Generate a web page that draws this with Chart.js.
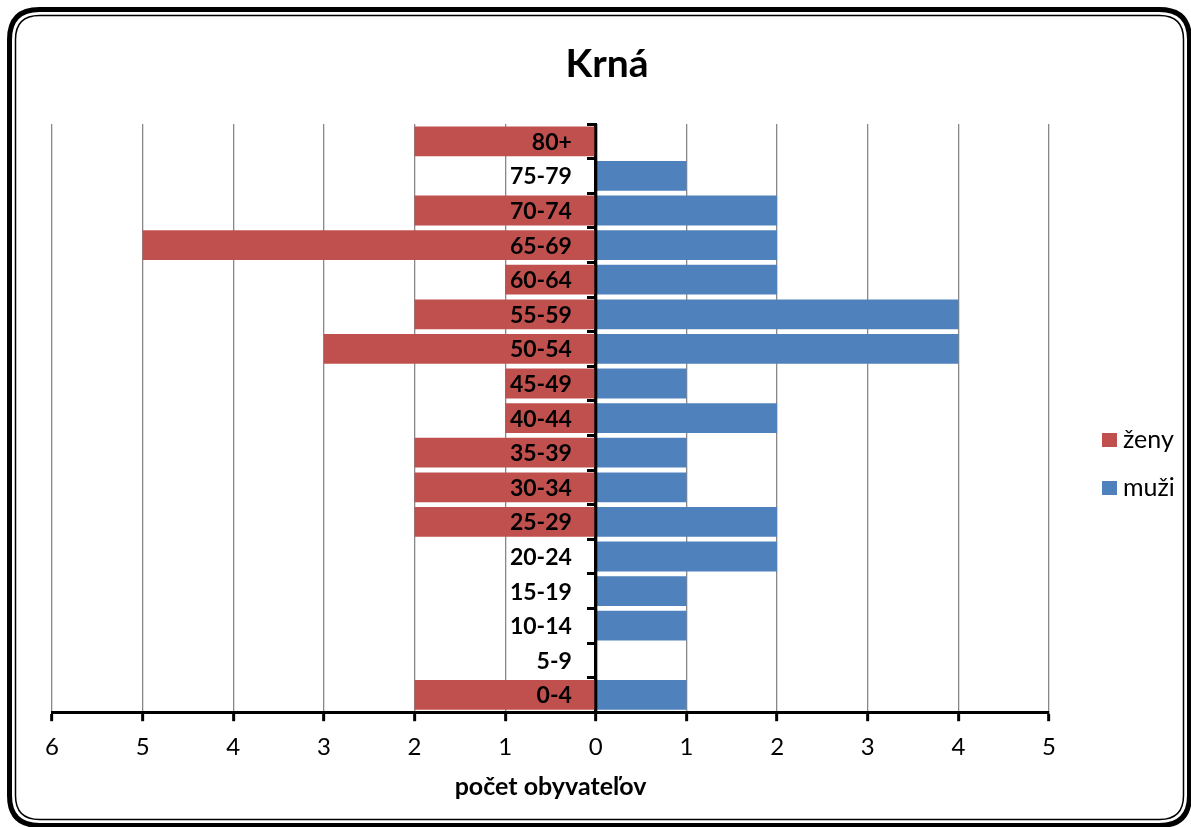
<!DOCTYPE html>
<html>
<head>
<meta charset="utf-8">
<script src="https://cdn.jsdelivr.net/npm/chart.js@4.4.1/dist/chart.umd.min.js"></script>
<style>
  html, body { margin: 0; padding: 0; background: #ffffff; }
  #wrap { width: 1191px; height: 827px; position: relative; }
</style>
</head>
<body>
<div id="wrap"><canvas id="c" width="1191" height="827"></canvas></div>
<script>
const chartTitle = 'Krná';
const axisTitle = 'počet obyvateľov';
const ageGroups = ['80+','75-79','70-74','65-69','60-64','55-59','50-54','45-49','40-44','35-39','30-34','25-29','20-24','15-19','10-14','5-9','0-4'];
const women = [2,0,2,5,1,2,3,1,1,2,2,2,0,0,0,0,2];
const men   = [0,1,2,2,2,4,4,1,2,1,1,2,2,1,1,0,1];
const womenLabel = 'ženy';
const menLabel = 'muži';
const womenColor = '#C0504D';
const menColor = '#4F81BD';
const xMin = -6, xMax = 5;

const FONT = 'Lato, "Open Sans", sans-serif';

const framePlugin = {
  id: 'frame',
  beforeDraw(chart) {
    const ctx = chart.ctx;
    ctx.save();
    ctx.fillStyle = '#ffffff';
    ctx.fillRect(0, 0, chart.width, chart.height);
    function rr(x, y, w, h, r) {
      ctx.beginPath();
      ctx.moveTo(x + r, y);
      ctx.lineTo(x + w - r, y);
      ctx.quadraticCurveTo(x + w, y, x + w, y + r);
      ctx.lineTo(x + w, y + h - r);
      ctx.quadraticCurveTo(x + w, y + h, x + w - r, y + h);
      ctx.lineTo(x + r, y + h);
      ctx.quadraticCurveTo(x, y + h, x, y + h - r);
      ctx.lineTo(x, y + r);
      ctx.quadraticCurveTo(x, y, x + r, y);
      ctx.closePath();
      ctx.stroke();
    }
    ctx.strokeStyle = '#000';
    ctx.lineWidth = 5;
    rr(9.5, 9.5, 1180, 816, 30);
    ctx.lineWidth = 1.5;
    rr(15.5, 15.5, 1168, 804, 24);
    // chart title
    ctx.fillStyle = '#000';
    ctx.font = 'bold 39px ' + FONT;
    ctx.textAlign = 'center';
    ctx.textBaseline = 'middle';
    ctx.fillText(chartTitle, 607, 64);
    ctx.restore();
  }
};

const labelPlugin = {
  id: 'ageLabels',
  afterDatasetsDraw(chart) {
    const ctx = chart.ctx;
    const ys = chart.scales.y;
    const xs = chart.scales.x;
    const x0 = xs.getPixelForValue(0);
    ctx.save();
    ctx.fillStyle = '#000';
    ctx.font = 'bold 23px ' + FONT;
    ctx.textAlign = 'right';
    ctx.textBaseline = 'middle';
    chart.data.labels.forEach((lab, i) => {
      ctx.fillText(lab, x0 - 24, ys.getPixelForValue(i) + 1);
    });
    // zero axis line over the bars
    ctx.strokeStyle = '#000';
    ctx.lineWidth = 3;
    ctx.beginPath();
    ctx.moveTo(x0, chart.chartArea.top);
    ctx.lineTo(x0, chart.chartArea.bottom);
    ctx.stroke();
    ctx.restore();
  }
};

const legendPlugin = {
  id: 'customLegend',
  afterDraw(chart) {
    const ctx = chart.ctx;
    ctx.save();
    const ys = [440, 488];
    chart.data.datasets.forEach((ds, i) => {
      ctx.fillStyle = ds.backgroundColor;
      ctx.fillRect(1102, ys[i] - 7, 15, 14);
      ctx.fillStyle = '#000';
      ctx.font = '25px ' + FONT;
      ctx.textBaseline = 'middle';
      ctx.textAlign = 'left';
      ctx.fillText(ds.label, 1123, ys[i]);
    });
    ctx.restore();
  }
};

new Chart(document.getElementById('c'), {
  type: 'bar',
  data: {
    labels: ageGroups,
    datasets: [
      { label: womenLabel, data: women.map(v => -v), backgroundColor: womenColor, borderWidth: 0, barPercentage: 0.86, categoryPercentage: 1 },
      { label: menLabel, data: men, backgroundColor: menColor, borderWidth: 0, barPercentage: 0.86, categoryPercentage: 1 }
    ]
  },
  options: {
    indexAxis: 'y',
    responsive: false,
    animation: false,
    devicePixelRatio: 1,
    layout: { padding: { left: 52, right: 142, top: 124, bottom: 28 } },
    plugins: {
      legend: { display: false },
      tooltip: { enabled: false },
      title: { display: false }
    },
    scales: {
      x: {
        type: 'linear',
        min: xMin, max: xMax,
        stacked: true,
        ticks: {
          stepSize: 1,
          color: '#000',
          font: { family: FONT, size: 24 },
          padding: 12,
          callback: v => Math.abs(v)
        },
        grid: { color: '#888888', lineWidth: 1.3, tickColor: '#000', tickWidth: 3, tickLength: 9, drawTicks: true },
        border: { color: '#000', width: 3 },
        title: { display: true, text: axisTitle, color: '#000', font: { family: FONT, size: 25, weight: 'bold', lineHeight: 1 }, padding: { top: 0, bottom: 0 } }
      },
      y: {
        type: 'category',
        stacked: true,
        position: { x: 0 },
        ticks: { display: false, autoSkip: false },
        grid: { drawOnChartArea: false, offset: true, drawTicks: true, tickLength: 7, tickColor: '#000', tickWidth: 3 },
        border: { color: '#000', width: 3 }
      }
    }
  },
  plugins: [framePlugin, labelPlugin, legendPlugin]
});
</script>
</body>
</html>
